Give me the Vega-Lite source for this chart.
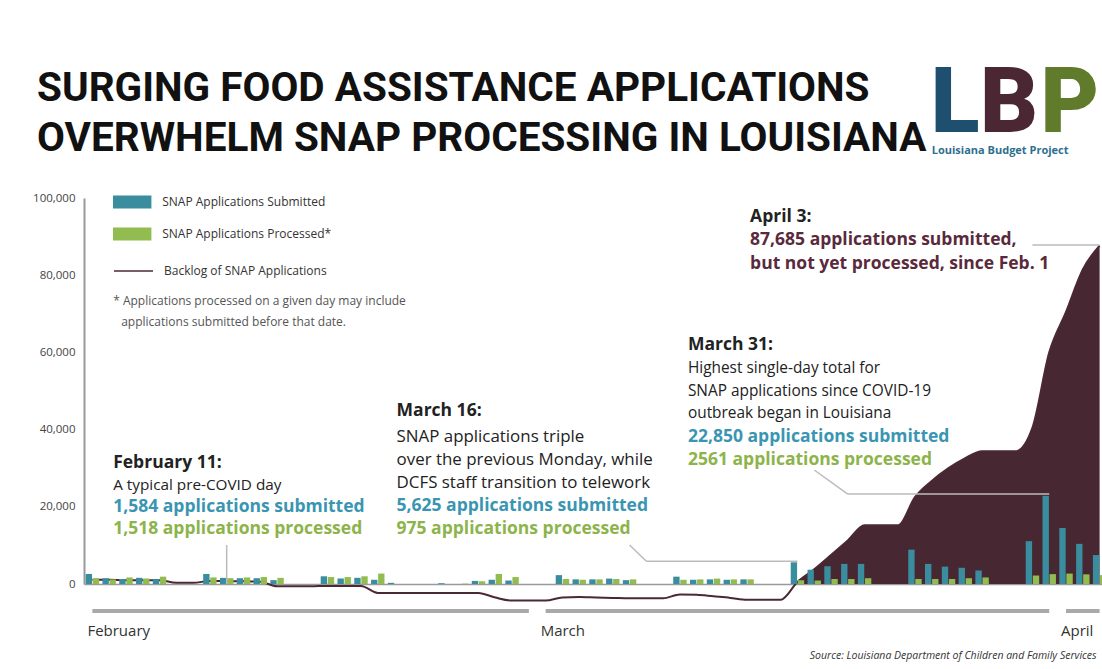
{
  "$schema": "https://vega.github.io/schema/vega-lite/v6.json",
  "autosize": {"type": "none"},
  "width": 1018,
  "height": 386,
  "padding": {"left": 84, "top": 198, "right": 0, "bottom": 85},
  "background": "white",
  "config": {
    "view": {"stroke": null},
    "font": "Open Sans",
    "axisX": {"domainColor": "#999999", "domainWidth": 1.5, "ticks": false, "grid": false, "labelPadding": 39, "labelAngle": 0, "labelBaseline": "top", "labelAlign": "left", "labelOffset": -5, "labelFontSize": 15, "labelColor": "#333333", "labelFont": "Open Sans", "labelOverlap": false, "labelBound": false},
    "axisY": {"domainColor": "#999999", "domainWidth": 2, "ticks": false, "grid": false, "labelPadding": 9, "labelFontSize": 11.5, "labelColor": "#444444", "labelFont": "Open Sans", "format": ",d"}
  },
  "title": {
    "text": ["SURGING FOOD ASSISTANCE APPLICATIONS", "OVERWHELM SNAP PROCESSING IN LOUISIANA"],
    "anchor": "start",
    "frame": "group",
    "baseline": "alphabetic",
    "dx": -47,
    "offset": -132,
    "font": "Roboto",
    "fontSize": 40.5,
    "fontWeight": "bold",
    "color": "#111111",
    "lineHeight": 50
  },
  "datasets": {
    "daily": [
      {"date": "2020-02-03", "submitted": 2600, "processed": 1500, "backlog": 1100},
      {"date": "2020-02-04", "submitted": 1500, "processed": 1200, "backlog": 1100},
      {"date": "2020-02-05", "submitted": 1300, "processed": 1700, "backlog": 1000},
      {"date": "2020-02-06", "submitted": 1600, "processed": 1400, "backlog": 1000},
      {"date": "2020-02-07", "submitted": 1300, "processed": 1900, "backlog": 1000},
      {"date": "2020-02-08", "backlog": 300},
      {"date": "2020-02-09", "backlog": 300},
      {"date": "2020-02-10", "submitted": 2600, "processed": 1700, "backlog": 800},
      {"date": "2020-02-11", "submitted": 1584, "processed": 1518, "backlog": 800},
      {"date": "2020-02-12", "submitted": 1500, "processed": 1700, "backlog": 700},
      {"date": "2020-02-13", "submitted": 1500, "processed": 1800, "backlog": 600},
      {"date": "2020-02-14", "submitted": 1000, "processed": 1600, "backlog": -600},
      {"date": "2020-02-15", "backlog": -600},
      {"date": "2020-02-16", "backlog": -600},
      {"date": "2020-02-17", "submitted": 2000, "processed": 1800, "backlog": -500},
      {"date": "2020-02-18", "submitted": 1400, "processed": 1800, "backlog": -500},
      {"date": "2020-02-19", "submitted": 1600, "processed": 2000, "backlog": -500},
      {"date": "2020-02-20", "submitted": 1100, "processed": 2700, "backlog": -2300},
      {"date": "2020-02-21", "submitted": 300, "processed": 0, "backlog": -2300},
      {"date": "2020-02-22", "backlog": -2300},
      {"date": "2020-02-23", "backlog": -2300},
      {"date": "2020-02-24", "submitted": 200, "processed": 0, "backlog": -2300},
      {"date": "2020-02-25", "submitted": 0, "processed": 100, "backlog": -2300},
      {"date": "2020-02-26", "submitted": 800, "processed": 700, "backlog": -2300},
      {"date": "2020-02-27", "submitted": 1100, "processed": 2600, "backlog": -3500},
      {"date": "2020-02-28", "submitted": 900, "processed": 1800, "backlog": -4300},
      {"date": "2020-02-29", "backlog": -4300},
      {"date": "2020-03-01", "backlog": -4300},
      {"date": "2020-03-02", "submitted": 2300, "processed": 1300, "backlog": -3500},
      {"date": "2020-03-03", "submitted": 1200, "processed": 1100, "backlog": -3400},
      {"date": "2020-03-04", "submitted": 1200, "processed": 1200, "backlog": -3500},
      {"date": "2020-03-05", "submitted": 1400, "processed": 1300, "backlog": -3600},
      {"date": "2020-03-06", "submitted": 1000, "processed": 1200, "backlog": -3700},
      {"date": "2020-03-07", "backlog": -3700},
      {"date": "2020-03-08", "backlog": -3700},
      {"date": "2020-03-09", "submitted": 1900, "processed": 1100, "backlog": -2700},
      {"date": "2020-03-10", "submitted": 1100, "processed": 1200, "backlog": -2800},
      {"date": "2020-03-11", "submitted": 1200, "processed": 1400, "backlog": -3200},
      {"date": "2020-03-12", "submitted": 1100, "processed": 1200, "backlog": -3600},
      {"date": "2020-03-13", "submitted": 1200, "processed": 1200, "backlog": -4100},
      {"date": "2020-03-14", "backlog": -4100},
      {"date": "2020-03-15", "backlog": -4100},
      {"date": "2020-03-16", "submitted": 5625, "processed": 975, "backlog": 500},
      {"date": "2020-03-17", "submitted": 3700, "processed": 900, "backlog": 3800},
      {"date": "2020-03-18", "submitted": 4600, "processed": 1300, "backlog": 7500},
      {"date": "2020-03-19", "submitted": 5200, "processed": 1300, "backlog": 11300},
      {"date": "2020-03-20", "submitted": 5200, "processed": 1500, "backlog": 15200},
      {"date": "2020-03-21", "backlog": 15200},
      {"date": "2020-03-22", "backlog": 15200},
      {"date": "2020-03-23", "submitted": 8900, "processed": 1300, "backlog": 22500},
      {"date": "2020-03-24", "submitted": 5200, "processed": 1300, "backlog": 26700},
      {"date": "2020-03-25", "submitted": 4500, "processed": 1300, "backlog": 30000},
      {"date": "2020-03-26", "submitted": 4200, "processed": 1500, "backlog": 32600},
      {"date": "2020-03-27", "submitted": 3500, "processed": 1700, "backlog": 34400},
      {"date": "2020-03-28", "backlog": 34400},
      {"date": "2020-03-29", "backlog": 34400},
      {"date": "2020-03-30", "submitted": 11100, "processed": 2200, "backlog": 40500},
      {"date": "2020-03-31", "submitted": 22850, "processed": 2561, "backlog": 60000},
      {"date": "2020-04-01", "submitted": 14500, "processed": 2700, "backlog": 70500},
      {"date": "2020-04-02", "submitted": 10400, "processed": 2500, "backlog": 81500},
      {"date": "2020-04-03", "submitted": 7500, "processed": 2300, "backlog": 87685}
    ],
    "months": [
      {"month": "February", "start": "2020-02-03", "end": "2020-02-29"},
      {"month": "March", "start": "2020-03-01", "end": "2020-03-31"},
      {"month": "April", "start": "2020-04-01", "end": "2020-04-03"}
    ]
  },
  "layer": [
    {
      "data": {"name": "daily"},
      "transform": [{"filter": "datum.date >= '2020-03-16'"}],
      "mark": {"type": "area", "color": "#472832", "interpolate": "monotone", "opacity": 1},
      "encoding": {
        "x": {"field": "date", "type": "ordinal", "sort": "ascending",
              "scale": {"type": "band", "paddingInner": 0.2, "paddingOuter": 0.1, "range": [0, 1024]},
              "axis": {"title": null, "labelAngle": 0, "labelExpr": "datum.value == '2020-02-03' ? 'February' : datum.value == '2020-03-01' ? 'March' : datum.value == '2020-04-01' ? 'April' : ''"}},
        "y": {"field": "backlog", "type": "quantitative", "stack": null,
              "scale": {"domain": [0, 100000], "nice": false, "zero": true},
              "axis": {"title": null, "values": [0, 20000, 40000, 60000, 80000, 100000], "format": ",d", "labelExpr": "format(datum.value, ',d')"}}
      }
    },
    {
      "data": {"name": "daily"},
      "mark": {"type": "line", "interpolate": "monotone", "strokeWidth": 2},
      "encoding": {
        "x": {"field": "date", "type": "ordinal", "sort": "ascending", "axis": {"title": null}},
        "y": {"field": "backlog", "type": "quantitative", "axis": {"title": null}},
        "stroke": {"datum": "Backlog of SNAP Applications", "type": "nominal",
                   "scale": {"range": ["#4a2834"]},
                   "legend": {"title": null, "orient": "none", "legendX": 29, "legendY": 52.5, "padding": 0,
                              "symbolType": "stroke", "symbolSize": 1521, "symbolStrokeWidth": 1.5,
                              "labelOffset": 10, "labelFontSize": 12, "labelLimit": 400, "labelColor": "#333333", "labelFont": "Open Sans"}}
      }
    },
    {
      "data": {"name": "daily"},
      "transform": [
        {"fold": ["submitted", "processed"], "as": ["series", "value"]},
        {"filter": "isValid(datum.value)"}
      ],
      "mark": {"type": "bar"},
      "encoding": {
        "x": {"field": "date", "type": "ordinal", "sort": "ascending", "axis": {"title": null}},
        "xOffset": {"field": "series", "type": "nominal", "scale": {"domain": ["submitted", "processed"], "paddingInner": 0.1}},
        "y": {"field": "value", "type": "quantitative", "axis": {"title": null}},
        "color": {"field": "series", "type": "nominal",
                  "scale": {"domain": ["submitted", "processed"], "range": ["#3a8d9f", "#92bc50"]},
                  "legend": {"title": null, "orient": "none", "legendX": 32.2, "legendY": -12, "padding": 0, "rowPadding": 9,
                             "symbolType": "M-1.2,-0.4H1.2V0.4H-1.2Z", "symbolSize": 1024, "symbolStrokeWidth": 0,
                             "labelOffset": 14, "labelFontSize": 12, "labelLimit": 400, "labelColor": "#333333", "labelFont": "Open Sans",
                             "labelExpr": "datum.label == 'submitted' ? 'SNAP Applications Submitted' : 'SNAP Applications Processed*'"}}
      }
    },
    {
      "data": {"name": "months"},
      "mark": {"type": "rule", "color": "#a9a9a9", "strokeWidth": 4},
      "encoding": {
        "x": {"field": "start", "type": "ordinal", "axis": {"title": null}},
        "x2": {"field": "end"},
        "y": {"datum": -7000, "type": "quantitative"}
      }
    },
    {
      "data": {"values": [{}]},
      "mark": {"type": "rule", "color": "#bbbbbb", "strokeWidth": 1.5},
      "encoding": {"x": {"datum": "2020-02-11", "type": "ordinal"}, "y": {"datum": 10100, "type": "quantitative"}, "y2": {"datum": 0}}
    },
    {
      "data": {"values": [{}]},
      "mark": {"type": "rule", "color": "#bbbbbb", "strokeWidth": 1.5},
      "encoding": {"x": {"datum": "2020-03-06", "type": "ordinal"}, "x2": {"datum": "2020-03-07"}, "y": {"datum": 10100, "type": "quantitative"}, "y2": {"datum": 5900}}
    },
    {
      "data": {"values": [{}]},
      "mark": {"type": "rule", "color": "#bbbbbb", "strokeWidth": 1.5},
      "encoding": {"x": {"datum": "2020-03-07", "type": "ordinal"}, "x2": {"datum": "2020-03-16"}, "y": {"datum": 5900, "type": "quantitative"}}
    },
    {
      "data": {"values": [{}]},
      "mark": {"type": "rule", "color": "#bbbbbb", "strokeWidth": 1.5},
      "encoding": {"x": {"datum": "2020-03-17", "type": "ordinal"}, "x2": {"datum": "2020-03-19"}, "y": {"datum": 29530, "type": "quantitative"}, "y2": {"datum": 23300}}
    },
    {
      "data": {"values": [{}]},
      "mark": {"type": "rule", "color": "#bbbbbb", "strokeWidth": 1.5},
      "encoding": {"x": {"datum": "2020-03-19", "type": "ordinal"}, "x2": {"datum": "2020-03-31"}, "y": {"datum": 23300, "type": "quantitative"}}
    },
    {
      "data": {"values": [{}]},
      "mark": {"type": "rule", "color": "#bbbbbb", "strokeWidth": 1.5},
      "encoding": {"x": {"datum": "2020-03-30", "type": "ordinal"}, "x2": {"datum": "2020-04-03"}, "y": {"datum": 87800, "type": "quantitative"}}
    },
    {
      "data": {"values": [{}]},
      "mark": {"type": "text", "text": "February 11:", "align": "left", "baseline": "alphabetic", "dx": 4, "font": "Open Sans", "fontSize": 17.5, "fontWeight": "bold", "color": "#222222"},
      "encoding": {"x": {"datum": "2020-02-04", "type": "ordinal"}, "y": {"datum": 30052, "type": "quantitative"}}
    },
    {
      "data": {"values": [{}]},
      "mark": {"type": "text", "text": "A typical pre-COVID day", "align": "left", "baseline": "alphabetic", "dx": 4, "font": "Open Sans", "fontSize": 15.3, "color": "#222222"},
      "encoding": {"x": {"datum": "2020-02-04", "type": "ordinal"}, "y": {"datum": 24353, "type": "quantitative"}}
    },
    {
      "data": {"values": [{}]},
      "mark": {"type": "text", "text": "1,584 applications submitted", "align": "left", "baseline": "alphabetic", "dx": 4, "font": "Open Sans", "fontSize": 17.5, "fontWeight": "bold", "color": "#3a95b2"},
      "encoding": {"x": {"datum": "2020-02-04", "type": "ordinal"}, "y": {"datum": 18653, "type": "quantitative"}}
    },
    {
      "data": {"values": [{}]},
      "mark": {"type": "text", "text": "1,518 applications processed", "align": "left", "baseline": "alphabetic", "dx": 4, "font": "Open Sans", "fontSize": 17.5, "fontWeight": "bold", "color": "#8cb44a"},
      "encoding": {"x": {"datum": "2020-02-04", "type": "ordinal"}, "y": {"datum": 12954, "type": "quantitative"}}
    },
    {
      "data": {"values": [{}]},
      "mark": {"type": "text", "text": "March 16:", "align": "left", "baseline": "alphabetic", "dx": 2, "font": "Open Sans", "fontSize": 17.5, "fontWeight": "bold", "color": "#222222"},
      "encoding": {"x": {"datum": "2020-02-21", "type": "ordinal"}, "y": {"datum": 43524, "type": "quantitative"}}
    },
    {
      "data": {"values": [{}]},
      "mark": {"type": "text", "text": ["SNAP applications triple", "over the previous Monday, while", "DCFS staff transition to telework"], "lineHeight": 23, "align": "left", "baseline": "alphabetic", "dx": 2, "font": "Open Sans", "fontSize": 16.9, "color": "#222222"},
      "encoding": {"x": {"datum": "2020-02-21", "type": "ordinal"}, "y": {"datum": 36788, "type": "quantitative"}}
    },
    {
      "data": {"values": [{}]},
      "mark": {"type": "text", "text": "5,625 applications submitted", "align": "left", "baseline": "alphabetic", "dx": 2, "font": "Open Sans", "fontSize": 17.5, "fontWeight": "bold", "color": "#3a95b2"},
      "encoding": {"x": {"datum": "2020-02-21", "type": "ordinal"}, "y": {"datum": 18912, "type": "quantitative"}}
    },
    {
      "data": {"values": [{}]},
      "mark": {"type": "text", "text": "975 applications processed", "align": "left", "baseline": "alphabetic", "dx": 2, "font": "Open Sans", "fontSize": 17.5, "fontWeight": "bold", "color": "#8cb44a"},
      "encoding": {"x": {"datum": "2020-02-21", "type": "ordinal"}, "y": {"datum": 12954, "type": "quantitative"}}
    },
    {
      "data": {"values": [{}]},
      "mark": {"type": "text", "text": "March 31:", "align": "left", "baseline": "alphabetic", "dx": 8, "font": "Open Sans", "fontSize": 17.5, "fontWeight": "bold", "color": "#222222"},
      "encoding": {"x": {"datum": "2020-03-09", "type": "ordinal"}, "y": {"datum": 60622, "type": "quantitative"}}
    },
    {
      "data": {"values": [{}]},
      "mark": {"type": "text", "text": ["Highest single-day total for", "SNAP applications since COVID-19", "outbreak began in Louisiana"], "lineHeight": 22.7, "align": "left", "baseline": "alphabetic", "dx": 8, "font": "Open Sans", "fontSize": 15.4, "color": "#222222"},
      "encoding": {"x": {"datum": "2020-03-09", "type": "ordinal"}, "y": {"datum": 54664, "type": "quantitative"}}
    },
    {
      "data": {"values": [{}]},
      "mark": {"type": "text", "text": "22,850 applications submitted", "align": "left", "baseline": "alphabetic", "dx": 8, "font": "Open Sans", "fontSize": 17.5, "fontWeight": "bold", "color": "#3a95b2"},
      "encoding": {"x": {"datum": "2020-03-09", "type": "ordinal"}, "y": {"datum": 36788, "type": "quantitative"}}
    },
    {
      "data": {"values": [{}]},
      "mark": {"type": "text", "text": "2561 applications processed", "align": "left", "baseline": "alphabetic", "dx": 8, "font": "Open Sans", "fontSize": 17.5, "fontWeight": "bold", "color": "#8cb44a"},
      "encoding": {"x": {"datum": "2020-03-09", "type": "ordinal"}, "y": {"datum": 30829, "type": "quantitative"}}
    },
    {
      "data": {"values": [{}]},
      "mark": {"type": "text", "text": "April 3:", "align": "left", "baseline": "alphabetic", "dx": 3, "font": "Open Sans", "fontSize": 17.5, "fontWeight": "bold", "color": "#222222"},
      "encoding": {"x": {"datum": "2020-03-13", "type": "ordinal"}, "y": {"datum": 93783, "type": "quantitative"}}
    },
    {
      "data": {"values": [{}]},
      "mark": {"type": "text", "text": ["87,685 applications submitted,", "but not yet processed, since Feb. 1"], "lineHeight": 24, "align": "left", "baseline": "alphabetic", "dx": 3, "font": "Open Sans", "fontSize": 17.5, "fontWeight": "bold", "color": "#5a2a3c"},
      "encoding": {"x": {"datum": "2020-03-13", "type": "ordinal"}, "y": {"datum": 87825, "type": "quantitative"}}
    },
    {
      "data": {"values": [{}]},
      "mark": {"type": "text", "text": "* Applications processed on a given day may include", "align": "left", "baseline": "alphabetic", "dx": 4, "font": "Open Sans", "fontSize": 12, "color": "#555555"},
      "encoding": {"x": {"datum": "2020-02-04", "type": "ordinal"}, "y": {"datum": 72281, "type": "quantitative"}}
    },
    {
      "data": {"values": [{}]},
      "mark": {"type": "text", "text": "applications submitted before that date.", "align": "left", "baseline": "alphabetic", "dx": 12, "font": "Open Sans", "fontSize": 12, "color": "#555555"},
      "encoding": {"x": {"datum": "2020-02-04", "type": "ordinal"}, "y": {"datum": 66840, "type": "quantitative"}}
    },
    {
      "data": {"values": [{}]},
      "mark": {"type": "text", "text": "Source: Louisiana Department of Children and Family Services", "align": "right", "baseline": "alphabetic", "dx": -3, "font": "Open Sans", "fontSize": 10.5, "fontStyle": "italic", "color": "#333333"},
      "encoding": {"x": {"datum": "2020-04-03", "type": "ordinal"}, "y": {"datum": -19430, "type": "quantitative"}}
    },
    {
      "data": {"values": [{}]},
      "mark": {"type": "text", "text": "L", "align": "left", "baseline": "alphabetic", "dx": -1, "font": "Roboto", "fontSize": 90, "fontWeight": 900, "color": "#1f4f6e"},
      "encoding": {"x": {"datum": "2020-03-24", "type": "ordinal"}, "y": {"datum": 117100, "type": "quantitative"}}
    },
    {
      "data": {"values": [{}]},
      "mark": {"type": "text", "text": "B", "align": "left", "baseline": "alphabetic", "dx": -2, "font": "Roboto", "fontSize": 90, "fontWeight": 900, "color": "#4a2733"},
      "encoding": {"x": {"datum": "2020-03-27", "type": "ordinal"}, "y": {"datum": 117100, "type": "quantitative"}}
    },
    {
      "data": {"values": [{}]},
      "mark": {"type": "text", "text": "P", "align": "left", "baseline": "alphabetic", "dx": 8, "font": "Roboto", "fontSize": 90, "fontWeight": 900, "color": "#5f7b2b"},
      "encoding": {"x": {"datum": "2020-03-30", "type": "ordinal"}, "y": {"datum": 117100, "type": "quantitative"}}
    },
    {
      "data": {"values": [{}]},
      "mark": {"type": "text", "text": "Louisiana Budget Project", "align": "left", "baseline": "alphabetic", "dx": 0, "font": "Open Sans", "fontSize": 11, "fontWeight": "bold", "color": "#2e6f90"},
      "encoding": {"x": {"datum": "2020-03-24", "type": "ordinal"}, "y": {"datum": 111400, "type": "quantitative"}}
    }
  ]
}
